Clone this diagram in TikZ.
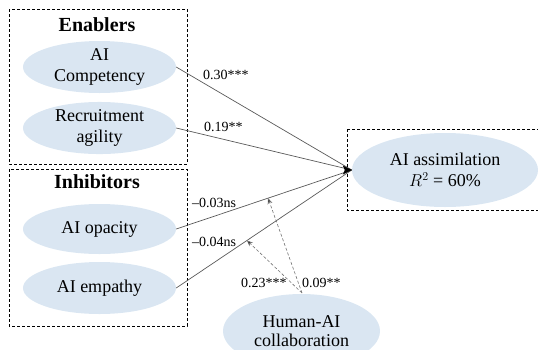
\documentclass[tikz,border=0pt]{standalone}
\usepackage{fontspec}
\setmainfont{Liberation Serif}
\usetikzlibrary{arrows.meta,shapes.geometric}
\definecolor{ellfill}{RGB}{218,230,242}
\tikzset{
  ell/.style={ellipse, fill=ellfill, align=center, inner sep=0pt, font=\fontsize{18}{21}\selectfont},
  grp/.style={draw=black, line width=0.8pt, dash pattern=on 3pt off 2pt},
  ttl/.style={font=\fontsize{20}{22}\selectfont\bfseries},
  lbl/.style={anchor=west, inner sep=0pt, font=\fontsize{14}{16}\selectfont},
  pth/.style={draw=black!65, line width=0.7pt},
  mod/.style={draw=black!55, line width=0.6pt, dash pattern=on 3pt off 2pt, -{Stealth[length=6pt,width=5pt,fill=black]}}
}
\begin{document}
\begin{tikzpicture}[x=1pt,y=-1pt]
\useasboundingbox (0,0) rectangle (538,349);
\clip (0,0) rectangle (538,349);
% group boxes
\draw[grp] (9,9) rectangle (187,164);
\draw[grp] (9,169) rectangle (187,326);
\draw[grp] (347,129) rectangle (545,210);
\node[ttl] (ten) at (97,25) {Enablers};
\node[ttl] (tin) at (97,182) {Inhibitors};
% ellipses
\node[ell, minimum width=153pt, minimum height=52pt] (comp) at (99.5,67) {AI\\Competency};
\node[ell, minimum width=153pt, minimum height=52pt] (recr) at (99.5,128) {Recruitment\\agility};
\node[ell, minimum width=153pt, minimum height=50pt] (opac) at (99.5,229) {AI opacity};
\node[ell, minimum width=153pt, minimum height=52pt] (emp) at (99.5,288) {AI empathy};
\node[ell, minimum width=186pt, minimum height=74pt] (assim) at (445,170) {AI assimilation\\$R^{2}$ = 60\%};
\node[ell, minimum width=157pt, minimum height=74pt, font=\fontsize{18}{19}\selectfont] (hai) at (301.5,331) {Human-AI\\collaboration};
% paths
\draw[pth] (comp.east) -- (assim.west);
\draw[pth] (recr.east) -- (assim.west);
\draw[pth] (opac.east) -- (assim.west) coordinate[pos=0.523] (m1);
\draw[pth] (emp.east) -- (assim.west) coordinate[pos=0.403] (m2);
\fill[black] (assim.west) -- ++(-9,-4.5) -- ++(2,4.5) -- ++(-2,4.5) -- cycle;
\coordinate (hs) at (302,293);
\draw[mod] (hs) -- (m1);
\draw[mod] (hs) -- (m2);
% labels
\node[lbl] (l1) at (203,75) {0.30***};
\node[lbl] (l2) at (204,127) {0.19**};
\node[lbl] (l3) at (192,203) {–0.03ns};
\node[lbl] (l4) at (192,242) {–0.04ns};
\node[lbl] (l5) at (241,283) {0.23***};
\node[lbl] (l6) at (302,283) {0.09**};
\end{tikzpicture}
\end{document}
